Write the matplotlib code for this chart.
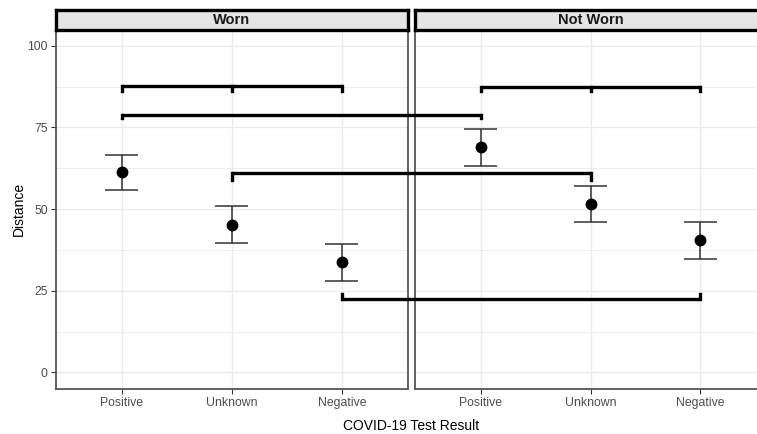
import matplotlib
matplotlib.use('Agg')
import matplotlib.pyplot as plt
from matplotlib.lines import Line2D

plt.rcParams['font.family'] = ['Liberation Sans', 'DejaVu Sans']

# data
panels = ['Worn', 'Not Worn']
results = ['Positive', 'Unknown', 'Negative']
means = {'Worn': [61.3, 45.0, 33.7], 'Not Worn': [69.1, 51.5, 40.4]}
lower = {'Worn': [55.8, 39.5, 28.1], 'Not Worn': [63.1, 46.0, 34.7]}
upper = {'Worn': [66.7, 50.9, 39.3], 'Not Worn': [74.4, 57.2, 46.0]}

# significance brackets: list of (panel, category) ends, bar level, tip level
brackets = [
    ([('Worn', 'Positive'), ('Worn', 'Unknown'), ('Worn', 'Negative')], 87.6, 86.3),
    ([('Not Worn', 'Positive'), ('Not Worn', 'Unknown'), ('Not Worn', 'Negative')], 87.4, 86.1),
    ([('Worn', 'Positive'), ('Not Worn', 'Positive')], 78.8, 78.0),
    ([('Worn', 'Unknown'), ('Not Worn', 'Unknown')], 61.1, 59.0),
    ([('Worn', 'Negative'), ('Not Worn', 'Negative')], 22.5, 24.1),
]

fig = plt.figure(figsize=(7.57, 4.34), dpi=100)
W, H = 757, 434

def frac(x0, y0, x1, y1):
    return [x0 / W, 1 - y1 / H, (x1 - x0) / W, (y1 - y0) / H]

panel_px = {'Worn': (56, 407.7), 'Not Worn': (414.7, 766.4)}
top, bottom = 29.5, 388.7
axes = {}
for p in panels:
    x0, x1 = panel_px[p]
    ax = fig.add_axes(frac(x0, top, x1, bottom))
    axes[p] = ax
    xs = list(range(1, len(results) + 1))
    ax.set_xlim(0.4, 3.6)
    ax.set_ylim(-5, 105)
    ax.set_xticks(xs)
    ax.set_xticklabels(results)
    ax.set_yticks([0, 25, 50, 75, 100])
    ax.set_yticks([12.5, 37.5, 62.5, 87.5], minor=True)
    ax.grid(True, which='major', color='#EBEBEB', lw=1.0)
    ax.grid(True, which='minor', axis='y', color='#EBEBEB', lw=0.6)
    ax.set_axisbelow(True)
    ax.tick_params(axis='both', which='major', length=3.5, width=0.8, color='#333333',
                   labelcolor='#4D4D4D', labelsize=8.8, pad=2.5)
    ax.tick_params(axis='both', which='minor', length=0)
    for s in ax.spines.values():
        s.set_color('#555555')
        s.set_linewidth(1.3)
    m = means[p]
    err = [[m[i] - lower[p][i] for i in range(3)], [upper[p][i] - m[i] for i in range(3)]]
    ax.errorbar(xs, m, yerr=err, fmt='none', ecolor='#333333', elinewidth=1.1,
                capsize=0, zorder=3)
    ax.hlines(lower[p] + upper[p], [x - 0.15 for x in xs] * 2, [x + 0.15 for x in xs] * 2,
              color='#333333', lw=1.1, zorder=3)
    ax.plot(xs, m, 'o', color='black', ms=7.5, zorder=4)
    if p != 'Worn':
        ax.tick_params(axis='y', left=False, labelleft=False)

    # strip
    sx = fig.add_axes(frac(x0, 10, x1, top))
    sx.set_facecolor('#E5E5E5')
    sx.set_xticks([])
    sx.set_yticks([])
    for s in sx.spines.values():
        s.set_color('black')
        s.set_linewidth(2.4)
    sx.text(0.5, 0.48, p, ha='center', va='center', fontsize=10.5, fontweight='bold',
            color='#1A1A1A', transform=sx.transAxes)

axes['Worn'].set_ylabel('Distance', fontsize=10, color='black', labelpad=1)
fig.text(411 / W, 1 - 426 / H, 'COVID-19 Test Result', ha='center', va='center',
         fontsize=10, color='black')

# brackets spanning panels, drawn in figure coordinates
inv = fig.transFigure.inverted()

def pt(p, cat, y):
    ax = axes[p]
    return inv.transform(ax.transData.transform((results.index(cat) + 1, y)))

for ends, ybar, ytip in brackets:
    left = pt(*ends[0], ybar)
    right = pt(*ends[-1], ybar)
    fig.add_artist(Line2D([left[0], right[0]], [left[1], right[1]], color='black',
                          lw=2.4, solid_capstyle='butt', transform=fig.transFigure))
    for p, cat in ends:
        a = pt(p, cat, ybar)
        b = pt(p, cat, ytip)
        fig.add_artist(Line2D([a[0], b[0]], [a[1], b[1]], color='black', lw=2.4,
                              solid_capstyle='projecting', transform=fig.transFigure))

fig.savefig('out.png', dpi=100)
